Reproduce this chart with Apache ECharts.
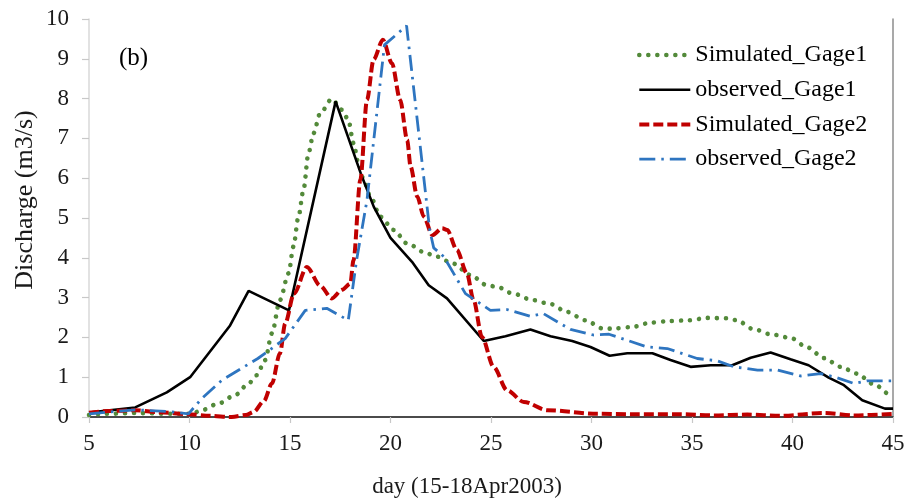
<!DOCTYPE html>
<html>
<head>
<meta charset="utf-8">
<script src="https://cdn.jsdelivr.net/npm/echarts@6/dist/echarts.min.js"></script>
<style>
  html, body { margin: 0; padding: 0; background: #fff; }
  #chart { width: 908px; height: 504px; }
</style>
</head>
<body>
<div id="chart"></div>
<script>
// Discharge hydrographs at the two gauges (day vs m3/s)
const xTicks = [5, 10, 15, 20, 25, 30, 35, 40, 45];
const yTicks = [0, 1, 2, 3, 4, 5, 6, 7, 8, 9, 10];

const simG1Day = [5, 5.8, 7.3, 9.3, 10.1, 10.6, 11.45, 12.27, 12.94, 13.35, 13.76, 14.1, 14.5, 14.93, 15.17, 15.42, 15.67, 15.92, 16.17, 16.5, 17.08, 17.58, 17.9, 18.16, 18.4, 18.66, 19.0, 19.5, 20.16, 20.83, 21.8, 22.3, 23.1, 23.97, 24.8, 25.3, 26.1, 27.04, 27.95, 28.78, 29.7, 30.58, 31.0, 32.0, 32.94, 33.85, 34.85, 35.76, 36.75, 37.25, 38.0, 38.9, 39.9, 40.73, 41.57, 42.4, 43.2, 44.06, 44.9, 45];
const simG1Q = [0.05, 0.08, 0.1, 0.08, 0.08, 0.17, 0.34, 0.55, 0.84, 1.05, 1.43, 2.1, 2.94, 3.61, 4.28, 5.03, 5.7, 6.63, 7.13, 7.63, 7.99, 7.72, 7.47, 6.88, 6.38, 5.96, 5.54, 5.03, 4.7, 4.36, 4.11, 4.03, 3.86, 3.57, 3.31, 3.27, 3.1, 2.94, 2.84, 2.64, 2.43, 2.22, 2.22, 2.26, 2.37, 2.41, 2.43, 2.49, 2.48, 2.43, 2.22, 2.08, 1.99, 1.75, 1.48, 1.26, 1.09, 0.82, 0.55, 0.52];

const obsG1Day = [5, 7.3, 8.87, 10.05, 12.02, 12.94, 14.95, 17.27, 18.52, 19.17, 20.0, 21.07, 21.9, 22.81, 24.64, 25.72, 26.96, 27.96, 29.04, 29.95, 30.9, 31.78, 33.03, 33.93, 34.93, 35.93, 37.0, 37.92, 38.91, 39.9, 40.8, 41.8, 42.56, 43.47, 44.6, 45];
const obsG1Q = [0.11, 0.24, 0.62, 1.01, 2.3, 3.17, 2.68, 7.93, 6.12, 5.28, 4.5, 3.9, 3.31, 2.98, 1.91, 2.03, 2.2, 2.03, 1.91, 1.76, 1.54, 1.6, 1.6, 1.43, 1.26, 1.3, 1.3, 1.49, 1.62, 1.45, 1.3, 0.99, 0.8, 0.42, 0.21, 0.21];

const simG2Day = [5, 6, 7.3, 8.5, 9.95, 11, 12.1, 12.8, 13.2, 13.7, 14.1, 14.5, 14.76, 15.2, 15.84, 16.5, 17.08, 17.6, 18.0, 18.16, 18.5, 18.83, 19.16, 19.62, 20.07, 20.48, 20.83, 21.0, 21.33, 21.66, 22.08, 22.57, 22.82, 23.3, 23.8, 24.13, 24.55, 25.13, 25.8, 26.63, 27.8, 30.3, 32, 34.4, 36.1, 37.75, 39.4, 41.57, 43.06, 45];
const simG2Q = [0.11, 0.15, 0.17, 0.12, 0.07, 0.03, 0.0, 0.05, 0.13, 0.4, 0.84, 1.6, 2.35, 3.1, 3.77, 3.3, 2.98, 3.2, 3.35, 3.94, 5.96, 7.97, 8.98, 9.48, 8.89, 7.97, 6.96, 6.29, 5.54, 5.03, 4.57, 4.74, 4.7, 4.2, 3.61, 2.94, 2.01, 1.26, 0.67, 0.38, 0.17, 0.08, 0.07, 0.07, 0.04, 0.06, 0.03, 0.1, 0.04, 0.08];

const obsG2Day = [5, 7.3, 8.95, 9.95, 10.6, 11.6, 13.4, 14.76, 15.76, 16.83, 17.9, 18.3, 18.83, 19.7, 20.8, 21.95, 22.15, 22.65, 23.73, 24.47, 24.97, 25.8, 26.96, 27.6, 28.95, 30.1, 30.87, 32.77, 33.77, 35.26, 36.26, 37.1, 38.26, 39.25, 40.4, 41.4, 42.2, 43.07, 43.7, 45];
const obsG2Q = [0.08, 0.18, 0.14, 0.08, 0.46, 0.92, 1.47, 1.97, 2.68, 2.73, 2.43, 3.9, 5.45, 9.35, 9.83, 4.7, 4.25, 4.03, 3.1, 2.85, 2.68, 2.7, 2.53, 2.6, 2.2, 2.06, 2.08, 1.76, 1.72, 1.47, 1.41, 1.26, 1.18, 1.18, 1.03, 1.09, 0.99, 0.84, 0.91, 0.91];

const pairs = (xs, ys) => xs.map((x, i) => [x, ys[i]]);

const serif = 'Liberation Serif, Times New Roman, serif';

// line styles shared by each series and its legend key
const styleSimG1 = { color: '#538a3a', width: 4.6, type: [0.01, 9], cap: 'round' };
const styleObsG1 = { color: '#000000', width: 2.6 };
const styleSimG2 = { color: '#c00000', width: 4, type: [10, 4] };
const styleObsG2 = { color: '#2e75c0', width: 2.8, type: [16, 6, 2.5, 6] };

const chart = echarts.init(document.getElementById('chart'), null, { renderer: 'canvas' });

chart.setOption({
  animation: false,
  backgroundColor: '#ffffff',
  grid: { left: 89, right: 15, top: 19, bottom: 87, containLabel: false },
  legend: {
    orient: 'vertical',
    left: 632,
    top: 38,
    itemWidth: 51,
    itemHeight: 14,
    itemGap: 10.7,
    // line-only keys: hide the marker drawn on top of each key line
    itemStyle: { color: 'rgba(0,0,0,0)', borderColor: 'rgba(0,0,0,0)', borderWidth: 0 },
    textStyle: { fontFamily: serif, fontSize: 24, color: '#000' },
    data: [
      { name: 'Simulated_Gage1', lineStyle: styleSimG1 },
      { name: 'observed_Gage1', lineStyle: styleObsG1 },
      { name: 'Simulated_Gage2', lineStyle: styleSimG2 },
      { name: 'observed_Gage2', lineStyle: styleObsG2 }
    ]
  },
  xAxis: [{
    type: 'value',
    min: xTicks[0],
    max: xTicks[xTicks.length - 1],
    interval: 5,
    axisLine: { show: true, lineStyle: { color: '#d9d9d9', width: 1.5 } },
    axisTick: { show: true, inside: false, length: 6, lineStyle: { color: '#c8c8c8', width: 1.2 } },
    axisLabel: { fontFamily: serif, fontSize: 23, color: '#1a1a1a', margin: 15 },
    splitLine: { show: false }
  }, {
    type: 'value',
    position: 'top',
    min: xTicks[0],
    max: xTicks[xTicks.length - 1],
    axisLine: { show: true, lineStyle: { color: '#1a1a1a', width: 1.5 } },
    axisTick: { show: false },
    axisLabel: { show: false },
    splitLine: { show: false }
  }],
  yAxis: [{
    type: 'value',
    min: yTicks[0],
    max: yTicks[yTicks.length - 1],
    interval: 1,
    axisLine: { show: true, lineStyle: { color: '#d9d9d9', width: 1.5 } },
    axisTick: { show: true, inside: false, length: 7, lineStyle: { color: '#c8c8c8', width: 1.2 } },
    axisLabel: { fontFamily: serif, fontSize: 23, color: '#1a1a1a', margin: 20 },
    splitLine: { show: false }
  }, {
    type: 'value',
    position: 'right',
    min: yTicks[0],
    max: yTicks[yTicks.length - 1],
    axisLine: { show: true, lineStyle: { color: '#8c8c8c', width: 1.5 } },
    axisTick: { show: false },
    axisLabel: { show: false },
    splitLine: { show: false }
  }],
  graphic: [
    {
      type: 'text', left: 119, top: 46,
      style: { text: '(b)', font: '25px ' + serif, fill: '#000' }
    },
    {
      type: 'text', x: 467, y: 487,
      style: { text: 'day (15-18Apr2003)', font: '23px ' + serif, fill: '#1a1a1a', textAlign: 'center', textVerticalAlign: 'middle' }
    },
    {
      type: 'text', x: 25, y: 200, rotation: Math.PI / 2,
      style: { text: 'Discharge (m3/s)', font: '26px ' + serif, fill: '#1a1a1a', textAlign: 'center', textVerticalAlign: 'middle' }
    }
  ],
  series: [
    {
      name: 'Simulated_Gage1', type: 'line', xAxisIndex: 0, yAxisIndex: 0,
      data: pairs(simG1Day, simG1Q),
      showSymbol: false, symbol: 'none', smooth: 0.3, smoothMonotone: 'x',
      lineStyle: styleSimG1,
      itemStyle: { color: styleSimG1.color }
    },
    {
      name: 'observed_Gage1', type: 'line', xAxisIndex: 0, yAxisIndex: 0,
      data: pairs(obsG1Day, obsG1Q),
      showSymbol: false, symbol: 'none',
      lineStyle: styleObsG1,
      itemStyle: { color: styleObsG1.color }
    },
    {
      name: 'Simulated_Gage2', type: 'line', xAxisIndex: 0, yAxisIndex: 0,
      data: pairs(simG2Day, simG2Q),
      showSymbol: false, symbol: 'none', smooth: 0.3, smoothMonotone: 'x',
      lineStyle: styleSimG2,
      itemStyle: { color: styleSimG2.color }
    },
    {
      name: 'observed_Gage2', type: 'line', xAxisIndex: 0, yAxisIndex: 0,
      data: pairs(obsG2Day, obsG2Q),
      showSymbol: false, symbol: 'none',
      lineStyle: styleObsG2,
      itemStyle: { color: styleObsG2.color }
    }
  ]
});
</script>
</body>
</html>
